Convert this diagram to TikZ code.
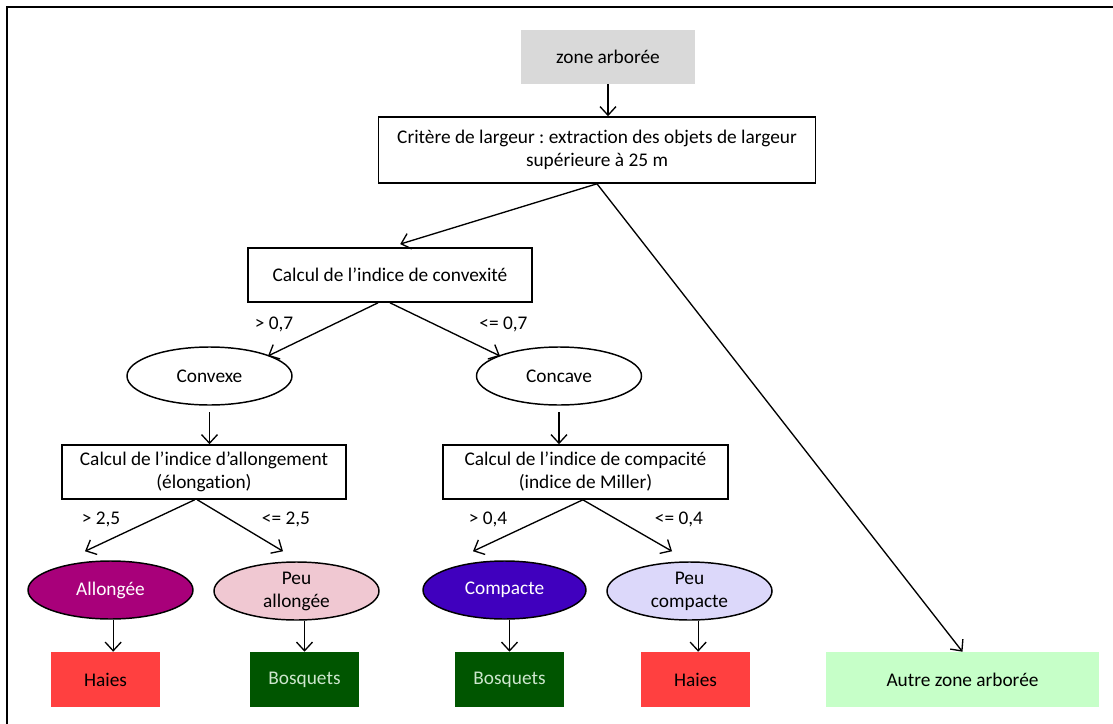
\documentclass[tikz,border=0pt]{standalone}
\usepackage{fontspec}
\setmainfont{Carlito}[Ligatures=NoCommon]
\usetikzlibrary{arrows.meta, shapes.geometric}
\frenchspacing
\definecolor{zonegray}{RGB}{217,217,217}
\definecolor{allongcol}{RGB}{168,0,122}
\definecolor{peuallcol}{RGB}{240,200,210}
\definecolor{compcol}{RGB}{64,0,190}
\definecolor{peucompcol}{RGB}{220,216,250}
\definecolor{haiescol}{RGB}{255,64,64}
\definecolor{bosqcol}{RGB}{0,85,0}
\definecolor{bosqtext}{RGB}{205,230,205}
\definecolor{autrecol}{RGB}{198,255,200}
\begin{document}
\begin{tikzpicture}[x=0.75pt, y=-0.75pt,
    font=\fontsize{14.5}{17.25}\selectfont,
    arr/.style={-{Straight Barb[length=6.5pt, width=12pt]}, line width=1pt},
    box/.style={draw, line width=1.2pt, align=center, inner sep=2pt},
    oval/.style={ellipse, draw, line width=1.1pt, align=center, inner sep=0pt, minimum width=123.75pt, minimum height=43.5pt},
    leaf/.style={align=center, minimum width=81.75pt, minimum height=41.25pt}]
    \useasboundingbox (0,0) rectangle (1113,724);
    \draw[line width=1.5pt] (7,724) |- (1113,7);
    % root and width criterion
    \node[fill=zonegray, minimum width=130.5pt, minimum height=40.5pt] (zone) at (608,57) {zone arborée};
    \node[box, minimum width=327.75pt, minimum height=49.5pt] (crit) at (597,150) {Critère de largeur : extraction des objets de largeur\\supérieure à 25 m};
    \node[box, minimum width=213pt, minimum height=40.5pt] (conv) at (390,275) {Calcul de l’indice de convexité};
    \node[oval] (convexe) at (209.5,376) {Convexe};
    \node[oval] (concave) at (559,376) {Concave};
    \node[box, minimum width=213pt, minimum height=40.5pt] (allong) at (204,472) {Calcul de l’indice d’allongement\\(élongation)};
    \node[box, minimum width=213.75pt, minimum height=40.5pt] (compac) at (585.5,472) {Calcul de l’indice de compacité\\(indice de Miller)};
    % shape classes
    \node[oval, fill=allongcol, text=white] (allongee) at (110.5,590) {Allongée};
    \node[oval, fill=peuallcol] (peuall) at (296.5,591) {Peu\\allongée};
    \node[oval, fill=compcol, text=white, minimum width=122.25pt] (compacte) at (504.5,590) {Compacte};
    \node[oval, fill=peucompcol] (peucomp) at (689.5,591) {Peu\\compacte};
    % final classes
    \node[leaf, fill=haiescol] (haiesA) at (105.5,679.5) {Haies};
    \node[leaf, fill=bosqcol, text=bosqtext] (bosqA) at (304.5,679.5) {Bosquets};
    \node[leaf, fill=bosqcol, text=bosqtext] (bosqB) at (509.5,679.5) {Bosquets};
    \node[leaf, fill=haiescol] (haiesB) at (695.5,679.5) {Haies};
    \node[leaf, fill=autrecol, minimum width=204.75pt] (autre) at (962.5,679.5) {Autre zone arborée};
    % connectors
    \draw[arr] (zone.south) -- (zone.south |- crit.north);
    \draw[arr, shorten >=8pt] (crit.south) -- (conv.north);
    \draw[arr] (crit.south) -- (autre.north);
    \draw[arr] ([xshift=-9pt]conv.south) -- ([shift={(58.5,-20)}]convexe.center);
    \draw[arr] (conv.south) -- ([shift={(-59,-20)}]concave.center);
    \draw[arr] ([yshift=-5pt]convexe.south) -- (convexe.south |- allong.north);
    \draw[arr] ([yshift=-5pt]concave.south) -- (concave.south |- compac.north);
    \draw[arr] ([xshift=-7pt]allong.south) -- ([shift={(-25.5,-9)}]allongee.north);
    \draw[arr] ([xshift=-5pt]allong.south) -- ([shift={(-13.5,-10)}]peuall.north);
    \draw[arr] ([xshift=-2pt]compac.south) -- ([shift={(-31.5,-9)}]compacte.north);
    \draw[arr] ([xshift=-2pt]compac.south) -- ([shift={(-17.5,-10)}]peucomp.north);
    \draw[arr] ([xshift=2pt]allongee.south) -- ([xshift=2pt]allongee.south |- haiesA.north);
    \draw[arr] (peuall.south -| bosqA.north) -- (bosqA.north);
    \draw[arr] (compacte.south -| bosqB.north) -- (bosqB.north);
    \draw[arr] ([xshift=6.5pt]peucomp.south) -- ([xshift=6.5pt]peucomp.south |- haiesB.north);
    % thresholds
    \node at (274,324) {> 0,7};
    \node at (503.5,324) {<= 0,7};
    \node at (101,519) {> 2,5};
    \node at (286,519) {<= 2,5};
    \node at (488,519) {> 0,4};
    \node at (679,519) {<= 0,4};
\end{tikzpicture}
\end{document}
